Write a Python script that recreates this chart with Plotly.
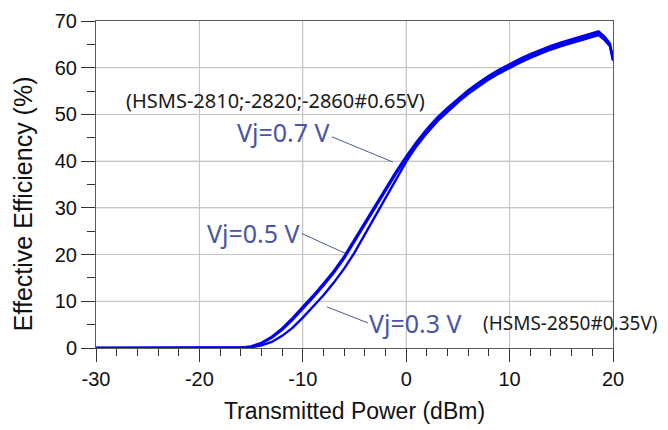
import plotly.graph_objects as go

# ---- data ----
power_dbm = [-30, -20, -17, -16, -15, -14, -13, -12, -11, -10, -9, -8, -7, -6, -5, -4, -3, -2, -1, 0,
             1, 2, 3, 4, 5, 6, 7, 8, 9, 10, 11, 12, 13, 14, 15, 16, 17, 18, 18.6, 19.2, 19.7, 20]

eff_vj07 = [0, 0, 0, 0.08, 0.35, 1.1, 2.4, 4.2, 6.4, 8.7, 11.2, 13.8, 16.5, 19.6, 23.2, 26.9, 30.6, 34.2, 37.7, 41.0,
            44.1, 46.9, 49.3, 51.4, 53.4, 55.2, 56.8, 58.3, 59.6, 60.8, 61.9, 62.9, 63.8, 64.7, 65.4, 66.1, 66.8, 67.5, 67.8, 66.6, 65.2, 62.0]

eff_vj05 = [0, 0, 0, 0.06, 0.3, 1.0, 2.2, 3.9, 6.0, 8.3, 10.8, 13.4, 16.1, 19.2, 22.8, 26.5, 30.2, 33.8, 37.3, 40.6,
            43.7, 46.5, 48.9, 51.0, 53.0, 54.8, 56.4, 57.9, 59.2, 60.4, 61.5, 62.5, 63.4, 64.3, 65.0, 65.7, 66.4, 67.1, 67.4, 66.2, 64.9, 61.8]

eff_vj03 = [0, 0, 0, 0.02, 0.15, 0.55, 1.3, 2.6, 4.3, 6.5, 8.8, 11.3, 14.0, 17.0, 20.4, 24.3, 28.4, 32.4, 36.3, 39.9,
            43.2, 46.0, 48.5, 50.6, 52.6, 54.4, 56.0, 57.5, 58.8, 60.0, 61.1, 62.1, 63.0, 63.9, 64.6, 65.3, 66.0, 66.7, 67.0, 65.9, 64.6, 61.5]

x_ticks = [-30, -20, -10, 0, 10, 20]
x_tick_text = ["-30", "-20", "-10", "0", "10", "20"]
y_ticks = [0, 10, 20, 30, 40, 50, 60, 70]
y_tick_text = ["0", "10", "20", "30", "40", "50", "60", "70"]

AX_FONT = "Liberation Sans, Arial, sans-serif"
LBL_FONT = "Noto Sans, Open Sans, sans-serif"
BLUE = "#0000ee"
LBL_BLUE = "#4a55a5"
GRID = "#c6c6c6"

fig = go.Figure()
for name, ys in [("Vj=0.3 V", eff_vj03), ("Vj=0.5 V", eff_vj05), ("Vj=0.7 V", eff_vj07)]:
    fig.add_trace(go.Scatter(x=power_dbm, y=ys, mode="lines", name=name,
                             line=dict(color=BLUE, width=2.4), cliponaxis=False))

common = dict(showline=True, linecolor="#5a5a5a", linewidth=1, mirror=True,
              ticks="outside", tickcolor="#333333", tickwidth=1,
              showgrid=True, gridcolor=GRID, gridwidth=1, zeroline=False,
              automargin=False,
              tickfont=dict(family=AX_FONT, size=20, color="#111111"),
              title_font=dict(family=AX_FONT, size=23, color="#111111"))

fig.update_xaxes(range=[-30, 20], tickvals=x_ticks, ticktext=x_tick_text, ticklen=13,
                 minor=dict(dtick=2, tick0=-30, ticks="outside", ticklen=7, tickcolor="#333333"),
                 title_text="Transmitted Power (dBm)", title_standoff=13, **common)
fig.update_yaxes(range=[0, 70], tickvals=y_ticks, ticktext=y_tick_text, ticklen=14,
                 minor=dict(dtick=5, tick0=0, ticks="outside", ticklen=8, tickcolor="#333333"),
                 title_text="", **common)

annotations = [
    dict(x=-12.6, y=53.0, text="(HSMS-2810;-2820;-2860#0.65V)", xanchor="center", yanchor="middle",
         font=dict(family=LBL_FONT, size=20, color="#1a1a1a")),
    dict(x=-7.25, y=46.2, text="Vj=0.7 V", xanchor="right", yanchor="middle",
         font=dict(family=LBL_FONT, size=25, color=LBL_BLUE)),
    dict(x=-10.2, y=24.6, text="Vj=0.5 V", xanchor="right", yanchor="middle",
         font=dict(family=LBL_FONT, size=25, color=LBL_BLUE)),
    dict(x=-3.7, y=5.3, text="Vj=0.3 V", xanchor="left", yanchor="middle",
         font=dict(family=LBL_FONT, size=25, color=LBL_BLUE)),
    dict(x=7.3, y=5.3, text="(HSMS-2850#0.35V)", xanchor="left", yanchor="middle",
         font=dict(family=LBL_FONT, size=19, color="#1a1a1a")),
]
for a in annotations:
    a.update(showarrow=False, xref="x", yref="y", borderpad=0)
# y-axis title (as rotated annotation so it can sit slightly below the plot centre like the reference)
annotations.append(dict(x=-0.141, y=0.44, xref="paper", yref="paper", text="Effective Efficiency (%)",
                        textangle=-90, showarrow=False, xanchor="center", yanchor="middle",
                        font=dict(family=AX_FONT, size=25, color="#111111")))

leaders = [(-7.18, 45.2, -1.28, 39.8), (-10.1, 24.5, -5.92, 20.3), (-3.69, 5.35, -7.66, 8.8)]
shapes = [dict(type="line", xref="x", yref="y", x0=a, y0=b, x1=c, y1=d,
               line=dict(color="#4a5a90", width=1)) for a, b, c, d in leaders]
# grid lines at the major tick values
shapes += [dict(type="line", xref="x", yref="paper", x0=v, x1=v, y0=0, y1=1, layer="below",
                line=dict(color=GRID, width=1)) for v in x_ticks[1:-1]]
shapes += [dict(type="line", xref="paper", yref="y", x0=0, x1=1, y0=v, y1=v, layer="below",
                line=dict(color=GRID, width=1)) for v in y_ticks[1:-1]]

# page body adds an 8px offset, so the figure is 8px smaller and margins are shifted accordingly
fig.update_layout(template="none", width=660, height=422, margin=dict(l=88, r=55, t=13, b=82),
                  plot_bgcolor="white", paper_bgcolor="white", showlegend=False,
                  annotations=annotations, shapes=shapes)

fig.write_html("out.html")
